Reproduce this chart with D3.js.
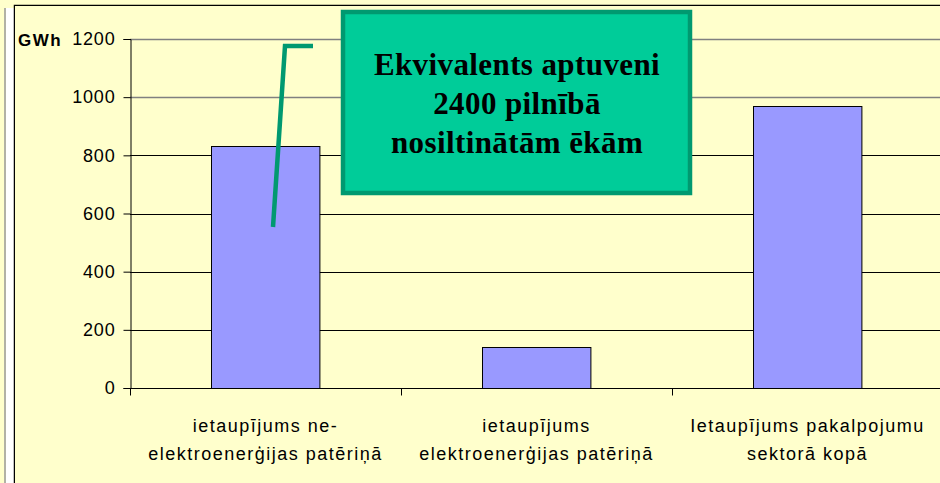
<!DOCTYPE html>
<html>
<head>
<meta charset="utf-8">
<script src="https://cdn.jsdelivr.net/npm/d3@7"></script>
<style>
  body { margin: 0; background: #ffffcc; }
  svg { display: block; }
</style>
</head>
<body>
<div id="chart"></div>
<script>
// savings per category, GWh
const categories = [
  ["ietaupījums ne-", "elektroenerģijas patēriņā"],
  ["ietaupījums", "elektroenerģijas patēriņā"],
  ["Ietaupījums pakalpojumu", "sektorā kopā"]
];
const values = [833, 140, 970];
const yTicks = [0, 200, 400, 600, 800, 1000, 1200];
const unitLabel = "GWh";
const calloutLines = ["Ekvivalents aptuveni", "2400 pilnībā", "nosiltinātām ēkām"];

const W = 940, H = 483;
const plot = { left: 130, right: 943, top: 39, bottom: 388 };
const sans = "Liberation Sans, Arial, sans-serif";

const svg = d3.select("#chart").append("svg")
  .attr("width", W).attr("height", H);

svg.append("rect").attr("width", W).attr("height", H).attr("fill", "#ffffcc");

// outer frame bits
svg.append("rect").attr("x", 6).attr("y", 8).attr("width", 8).attr("height", H)
  .attr("fill", "#ffffff");
svg.append("line").attr("x1", 5).attr("x2", 5).attr("y1", 8).attr("y2", H)
  .attr("stroke", "#999").attr("stroke-width", 1.5);
svg.append("path").attr("d", `M14.5,${H}V5.5H${W}`)
  .attr("fill", "none").attr("stroke", "#000").attr("stroke-width", 1.5);
svg.append("rect").attr("x", 15).attr("y", 6).attr("width", W).attr("height", H)
  .attr("fill", "#ffffcc");

const x = d3.scaleBand()
  .domain(d3.range(categories.length))
  .range([plot.left, plot.right])
  .paddingInner(0.6).paddingOuter(0.3);

const xGroup = d3.scaleBand()
  .domain(d3.range(categories.length))
  .range([plot.left, plot.right]);

const y = d3.scaleLinear().domain([0, 1200]).range([plot.bottom, plot.top]);

// gridlines
svg.append("g")
  .selectAll("line")
  .data(yTicks.filter(d => d > 0))
  .join("line")
  .attr("x1", plot.left).attr("x2", W)
  .attr("y1", d => Math.round(y(d)) + 0.5).attr("y2", d => Math.round(y(d)) + 0.5)
  .attr("stroke", d => d >= 1000 ? "#808080" : "#000")
  .attr("stroke-width", d => d >= 1000 ? 1.5 : 1);

// bars
svg.append("g")
  .selectAll("rect")
  .data(values)
  .join("rect")
  .attr("x", (d, i) => Math.round(x(i)) + 0.5)
  .attr("y", d => Math.round(y(d)) + 0.5)
  .attr("width", x.bandwidth())
  .attr("height", d => Math.round(y(0)) - Math.round(y(d)))
  .attr("fill", "#9999ff")
  .attr("stroke", "#000")
  .attr("stroke-width", 1);

// y axis
const yAxis = svg.append("g")
  .attr("transform", `translate(${plot.left + 0.5},0)`)
  .call(d3.axisLeft(y).tickValues(yTicks).tickFormat(d3.format("d"))
    .tickSize(7).tickPadding(8));
yAxis.select(".domain").attr("stroke", "#000");
yAxis.selectAll("text")
  .attr("font-family", sans)
  .attr("font-size", 18)
  .attr("letter-spacing", 0.8)
  .attr("fill", "#000");

svg.append("text")
  .attr("x", 18).attr("y", 46)
  .attr("font-family", sans)
  .attr("font-size", 17).attr("font-weight", "bold")
  .attr("letter-spacing", 1.5)
  .text(unitLabel);

// x axis
const xAxis = svg.append("g")
  .attr("transform", `translate(0,${Math.round(y(0)) + 0.5})`);
xAxis.append("line").attr("x1", plot.left).attr("x2", W)
  .attr("stroke", "#000");
xAxis.selectAll(".tick")
  .data(d3.range(categories.length + 1))
  .join("line")
  .attr("class", "tick")
  .attr("x1", i => Math.round(i < categories.length ? xGroup(i) : plot.right) + 0.5)
  .attr("x2", i => Math.round(i < categories.length ? xGroup(i) : plot.right) + 0.5)
  .attr("y1", 0).attr("y2", 7)
  .attr("stroke", "#000");

svg.append("g")
  .selectAll("text")
  .data(categories)
  .join("text")
  .attr("text-anchor", "middle")
  .attr("font-family", sans)
  .attr("font-size", 18)
  .attr("letter-spacing", 1.5)
  .attr("fill", "#000")
  .each(function(d, i) {
    const cx = xGroup(i) + xGroup.bandwidth() / 2;
    d3.select(this).selectAll("tspan")
      .data(d)
      .join("tspan")
      .attr("x", cx)
      .attr("y", (t, j) => 432 + j * 28)
      .text(t => t);
  });

// pointer line
svg.append("path")
  .attr("d", "M273,227L285,46H313")
  .attr("fill", "none")
  .attr("stroke", "#009970")
  .attr("stroke-width", 4.5);

// callout box
svg.append("rect")
  .attr("x", 343).attr("y", 12)
  .attr("width", 347).attr("height", 181)
  .attr("fill", "#00cc99")
  .attr("stroke", "#009970")
  .attr("stroke-width", 4.5);

svg.append("g")
  .selectAll("text")
  .data(calloutLines)
  .join("text")
  .attr("x", 517)
  .attr("y", (d, i) => 75 + i * 39)
  .attr("text-anchor", "middle")
  .attr("font-family", "Liberation Serif, Times New Roman, serif")
  .attr("font-size", 31).attr("font-weight", "bold")
  .attr("letter-spacing", 0.4)
  .attr("fill", "#000")
  .text(d => d);
</script>
</body>
</html>
